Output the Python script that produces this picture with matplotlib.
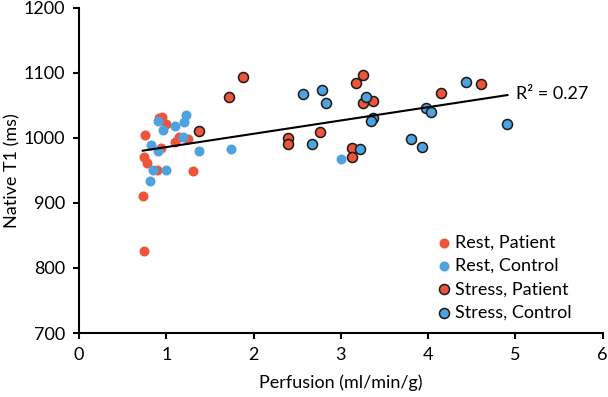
import matplotlib.pyplot as plt
import numpy as np

RED = "#EC5539"
BLUE = "#4FA2E0"
EDGE = "#1a1a1a"

rest_patient_x = [0.74, 0.73, 0.76, 0.74, 0.78, 0.89, 0.94, 0.92, 0.95, 1.00, 1.10, 1.14, 1.25, 1.31]
rest_patient_y = [826, 910, 1005, 971, 961, 950, 984, 1031, 1032, 1021, 994, 1001, 998, 949]

rest_control_x = [0.81, 0.85, 1.00, 0.83, 0.91, 0.90, 0.96, 1.10, 1.20, 1.23, 1.19, 1.37, 1.74, 3.00]
rest_control_y = [934, 950, 950, 989, 980, 1026, 1012, 1018, 1024, 1035, 1001, 980, 982, 967]

stress_patient_x = [1.37, 1.72, 1.88, 2.39, 2.39, 2.76, 3.25, 3.17, 3.25, 3.37, 3.13, 3.13, 4.15, 4.61]
stress_patient_y = [1010, 1062, 1094, 999, 991, 1009, 1096, 1084, 1054, 1057, 985, 971, 1069, 1083]

stress_control_x = [2.57, 2.79, 2.83, 2.67, 3.22, 3.29, 3.37, 3.35, 3.80, 3.93, 3.98, 4.03, 4.44, 4.91]
stress_control_y = [1067, 1074, 1053, 991, 982, 1063, 1031, 1025, 998, 986, 1046, 1040, 1085, 1021]

plt.rcParams["font.family"] = ["Lato", "DejaVu Sans"]
FS = 13

fig = plt.figure(figsize=(6.08, 3.97), dpi=100)
ax = fig.add_axes([0.130, 0.161, 0.861, 0.820])

ax.scatter(rest_patient_x, rest_patient_y, s=52, color=RED, linewidths=0, label="Rest, Patient", zorder=3)
ax.scatter(rest_control_x, rest_control_y, s=52, color=BLUE, linewidths=0, label="Rest, Control", zorder=3)
ax.scatter(stress_patient_x, stress_patient_y, s=52, color=RED, edgecolors=EDGE, linewidths=1.1,
           label="Stress, Patient", zorder=3)
ax.scatter(stress_control_x, stress_control_y, s=52, color=BLUE, edgecolors=EDGE, linewidths=1.1,
           label="Stress, Control", zorder=3)

# linear trend over all points
all_x = np.array(rest_patient_x + rest_control_x + stress_patient_x + stress_control_x)
all_y = np.array(rest_patient_y + rest_control_y + stress_patient_y + stress_control_y)
slope, intercept = np.polyfit(all_x, all_y, 1)
line_x = np.array([all_x.min(), all_x.max()])
ax.plot(line_x, intercept + slope * line_x, color="black", linewidth=1.5, zorder=4)
ax.text(5.01, 1067, "R² = 0.27", fontsize=FS, va="center", ha="left")

ax.set_xlim(0, 6)
ax.set_ylim(700, 1200)
ax.set_xticks(range(0, 7))
ax.set_yticks(range(700, 1201, 100))
ax.spines["top"].set_visible(False)
ax.spines["right"].set_visible(False)
ax.spines["left"].set_linewidth(1.5)
ax.spines["bottom"].set_linewidth(1.5)
ax.tick_params(width=1.5, length=4, labelsize=FS, pad=6)
ax.set_xlabel("Perfusion (ml/min/g)", fontsize=FS, labelpad=8)
ax.set_ylabel("Native T1 (ms)", fontsize=FS)
ax.yaxis.set_label_coords(-0.112, 0.5)

ax.legend(loc="lower right", bbox_to_anchor=(0.965, 0.0), frameon=False, fontsize=FS,
          handletextpad=0.0, labelspacing=0.4, handlelength=1.2, borderaxespad=0.3)

fig.savefig("out.png", dpi=100)
